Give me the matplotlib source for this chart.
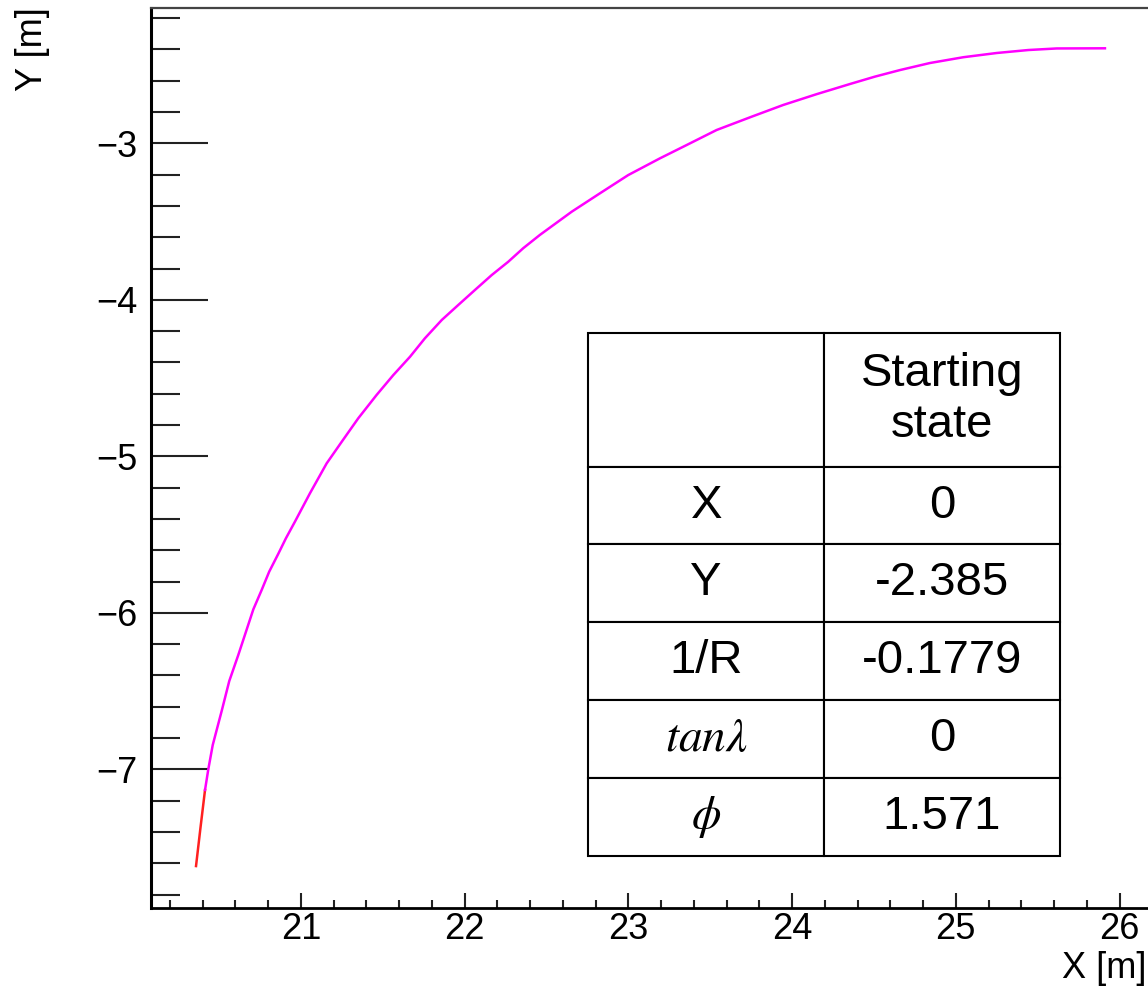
import matplotlib
matplotlib.use('Agg')
import matplotlib.pyplot as plt
from matplotlib.ticker import MultipleLocator

plt.rcParams['font.family'] = ['Liberation Sans', 'DejaVu Sans']
plt.rcParams['mathtext.fontset'] = 'stix'

# extrapolated part (red) and fitted track (magenta)
x_red = [20.359, 20.386, 20.414]
y_red = [-7.618, -7.375, -7.132]

x_track = [20.414, 20.434, 20.461, 20.516, 20.562, 20.617, 20.664, 20.709, 20.760,
           20.806, 20.861, 20.908, 20.963, 21.055, 21.157, 21.249, 21.350, 21.462,
           21.564, 21.666, 21.757, 21.860, 21.961, 22.063, 22.165, 22.266, 22.358,
           22.460, 22.654, 22.827, 22.999, 23.193, 23.356, 23.539, 23.753, 23.946,
           24.150, 24.354, 24.506, 24.659, 24.842, 25.046, 25.250, 25.443, 25.616,
           25.911]
y_track = [-7.132, -7.000, -6.845, -6.626, -6.436, -6.270, -6.121, -5.978, -5.854,
           -5.737, -5.624, -5.524, -5.418, -5.236, -5.045, -4.907, -4.757, -4.608,
           -4.481, -4.364, -4.246, -4.129, -4.033, -3.937, -3.842, -3.757, -3.670,
           -3.585, -3.437, -3.319, -3.203, -3.096, -3.011, -2.915, -2.830, -2.755,
           -2.686, -2.621, -2.574, -2.532, -2.487, -2.450, -2.423, -2.404, -2.394,
           -2.393]

row_names = ['X', 'Y', '1/R', r'$tan\lambda$', r'$\phi$']
start_values = ['0', '-2.385', '-0.1779', '0', '1.571']
header = ['', 'Starting\nstate']

fig = plt.figure(figsize=(11.48, 9.89), dpi=100)
ax = fig.add_axes([151 / 1148, 81 / 989, 997 / 1148, 900 / 989])

ax.plot(x_red, y_red, '-', color='#ff2020', lw=1.8)
ax.plot(x_track, y_track, '-', color='#ff00ff', lw=1.8)

ax.set_xlim(20.084, 26.174)
ax.set_ylim(-7.886, -2.1355)

ax.xaxis.set_major_locator(MultipleLocator(1))
ax.xaxis.set_minor_locator(MultipleLocator(0.2))
ax.yaxis.set_major_locator(MultipleLocator(1))
ax.yaxis.set_minor_locator(MultipleLocator(0.2))
ax.tick_params(which='both', direction='in', color='#222222', labelsize=26)
ax.tick_params(axis='y', which='major', length=41, width=1.5, pad=10)
ax.tick_params(axis='y', which='minor', length=21, width=1.5)
ax.tick_params(axis='x', which='major', length=11, width=1.5, pad=3)
ax.tick_params(axis='x', which='minor', length=6, width=1.5)

ax.spines['right'].set_visible(False)
ax.spines['left'].set_linewidth(2.2)
ax.spines['bottom'].set_linewidth(2.0)
ax.spines['top'].set_linewidth(1.6)
ax.spines['top'].set_color('#444444')

fig.text(32 / 1148, 1 - 7 / 989, 'Y [m]', rotation=90, ha='center', va='top', fontsize=26)
fig.text(0.999, 1 - 969 / 989, 'X [m]', ha='right', va='center', fontsize=26)

cells = [[n, v] for n, v in zip(row_names, start_values)]
tab = ax.table(cellText=cells, colLabels=header, cellLoc='center',
               bbox=[0.4386, 0.0581, 0.4731, 0.5811])
tab.auto_set_font_size(False)
tab.set_fontsize(34)
for (r, c), cell in tab.get_celld().items():
    cell.set_linewidth(1.5)
    cell.set_edgecolor('black')
    cell.set_height(0.256 if r == 0 else 0.1488)

fig.savefig('out.png', dpi=100)
